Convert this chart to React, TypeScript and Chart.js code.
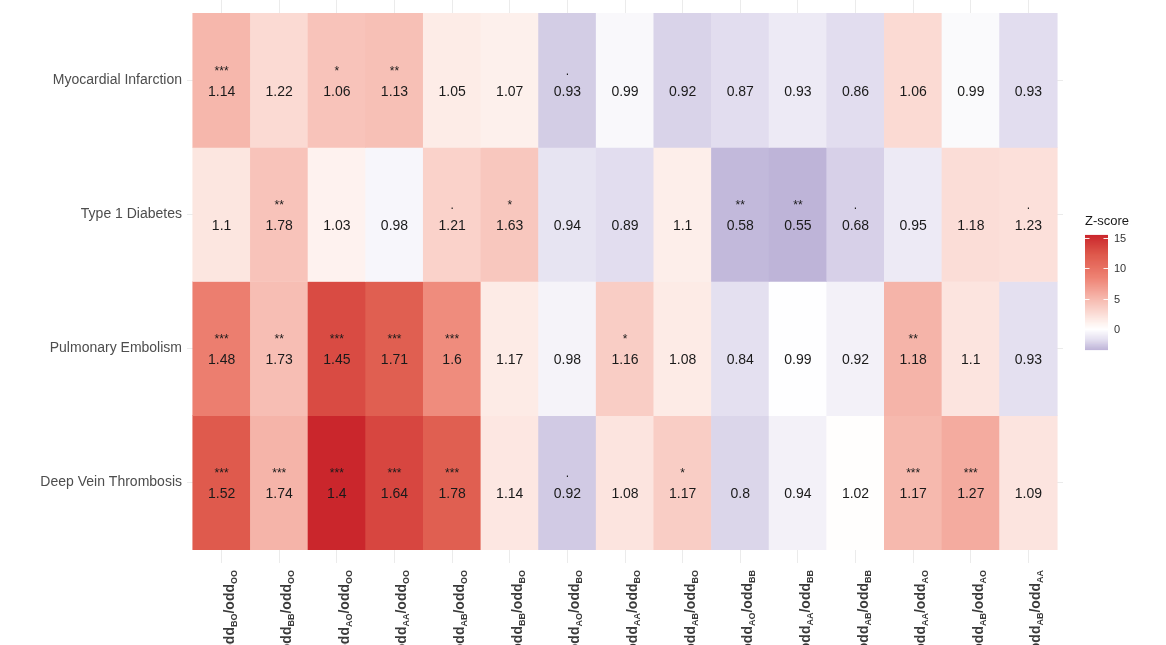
import { useEffect, useRef } from "react";
import { Chart, registerables } from "chart.js";

Chart.register(...registerables);

// ---------- data ----------
const rowLabels = [
  "Myocardial Infarction",
  "Type 1 Diabetes",
  "Pulmonary Embolism",
  "Deep Vein Thrombosis",
];

// column labels: odd_{num}/odd_{den}
const colNumerators = ["BO", "BB", "AO", "AA", "AB", "BB", "AO", "AA", "AB", "AO", "AA", "AB", "AA", "AB", "AB"];
const colDenominators = ["OO", "OO", "OO", "OO", "OO", "BO", "BO", "BO", "BO", "BB", "BB", "BB", "AO", "AO", "AA"];

// odds ratios shown in cells
const orMI = [1.14, 1.22, 1.06, 1.13, 1.05, 1.07, 0.93, 0.99, 0.92, 0.87, 0.93, 0.86, 1.06, 0.99, 0.93];
const orT1D = [1.1, 1.78, 1.03, 0.98, 1.21, 1.63, 0.94, 0.89, 1.1, 0.58, 0.55, 0.68, 0.95, 1.18, 1.23];
const orPE = [1.48, 1.73, 1.45, 1.71, 1.6, 1.17, 0.98, 1.16, 1.08, 0.84, 0.99, 0.92, 1.18, 1.1, 0.93];
const orDVT = [1.52, 1.74, 1.4, 1.64, 1.78, 1.14, 0.92, 1.08, 1.17, 0.8, 0.94, 1.02, 1.17, 1.27, 1.09];

// significance marks
const sigMI = ["***", "", "*", "**", "", "", ".", "", "", "", "", "", "", "", ""];
const sigT1D = ["", "**", "", "", ".", "*", "", "", "", "**", "**", ".", "", "", "."];
const sigPE = ["***", "**", "***", "***", "***", "", "", "*", "", "", "", "", "**", "", ""];
const sigDVT = ["***", "***", "***", "***", "***", "", ".", "", "*", "", "", "", "***", "***", ""];

// Z-scores (fill colour)
const zMI = [5.1, 2.7, 4.3, 4.5, 1.5, 1.2, -2.45, -0.4, -2.2, -1.8, -1.15, -1.8, 2.7, -0.3, -1.8];
const zT1D = [1.9, 4.3, 1.0, -0.5, 3.3, 4.0, -1.5, -1.8, 1.3, -3.2, -3.4, -2.3, -1.15, 2.5, 2.3];
const zPE = [8.9, 4.65, 13.2, 11.8, 7.9, 1.55, -0.65, 3.6, 1.55, -1.7, -0.05, -0.75, 5.3, 2.0, -1.7];
const zDVT = [12.2, 5.3, 15.5, 13.5, 11.8, 1.8, -2.55, 2.0, 3.6, -2.1, -0.75, 0.1, 5.0, 5.9, 2.0];

const legendTicks = [0, 5, 10, 15];

const orRows = [orMI, orT1D, orPE, orDVT];
const sigRows = [sigMI, sigT1D, sigPE, sigDVT];
const zRows = [zMI, zT1D, zPE, zDVT];

const allZ = zRows.flat();
const zMax = Math.max(...allZ);
const zMin = Math.min(...allZ);

// ---------- colour scale ----------
const posStops: [number, number[]][] = [
  [0, [255, 255, 255]],
  [0.1, [253, 235, 230]],
  [0.3, [247, 190, 180]],
  [0.55, [238, 130, 115]],
  [0.8, [222, 88, 75]],
  [1, [202, 38, 44]],
];
const negStops: [number, number[]][] = [
  [0, [255, 255, 255]],
  [0.5, [228, 224, 240]],
  [1, [190, 180, 216]],
];

function interp(stops: [number, number[]][], t: number) {
  t = Math.max(0, Math.min(1, t));
  for (let i = 1; i < stops.length; i++) {
    if (t <= stops[i][0]) {
      const [t0, c0] = stops[i - 1];
      const [t1, c1] = stops[i];
      const f = (t - t0) / (t1 - t0);
      const c = c0.map((v, k) => Math.round(v + (c1[k] - v) * f));
      return `rgb(${c[0]},${c[1]},${c[2]})`;
    }
  }
  const c = stops[stops.length - 1][1];
  return `rgb(${c[0]},${c[1]},${c[2]})`;
}

function zColor(z: number) {
  if (z >= 0) return interp(posStops, z / zMax);
  return interp(negStops, z / zMin);
}

const FONT = "'Liberation Sans', Arial, Helvetica, sans-serif";

// ---------- plugins ----------
const cellTextPlugin = {
  id: "cellText",
  afterDatasetsDraw(chart: any) {
    const ctx = chart.ctx;
    const xs = chart.scales.x;
    const ys = chart.scales.y;
    ctx.save();
    ctx.textAlign = "center";
    ctx.textBaseline = "middle";
    ctx.fillStyle = "#1a1a1a";
    orRows.forEach((row, r) => {
      row.forEach((v, c) => {
        const x = xs.getPixelForValue(c);
        const y = ys.getPixelForValue(r);
        ctx.font = `14px ${FONT}`;
        ctx.fillText(String(v), x, y + 11.5);
        const s = sigRows[r][c];
        if (s) {
          ctx.font = `12px ${FONT}`;
          ctx.fillText(s, x, y - 9);
        }
      });
    });
    ctx.restore();
  },
};

const xLabelPlugin = {
  id: "xLabels",
  afterDraw(chart: any) {
    const ctx = chart.ctx;
    const xs = chart.scales.x;
    const top = chart.chartArea.bottom + 7;
    const big = `bold 14px ${FONT}`;
    const small = `bold 9px ${FONT}`;
    ctx.save();
    ctx.fillStyle = "#3a3a3a";
    ctx.textBaseline = "alphabetic";
    ctx.textAlign = "left";
    colNumerators.forEach((num, i) => {
      const den = colDenominators[i];
      const parts: [string, string, number][] = [
        ["odd", big, 0],
        [num, small, 3],
        ["/", big, 0],
        ["odd", big, 0],
        [den, small, 3],
      ];
      let w = 0;
      parts.forEach(([t, f]) => {
        ctx.font = f;
        w += ctx.measureText(t).width;
      });
      const x = xs.getPixelForValue(i);
      ctx.save();
      ctx.translate(x + 12, top);
      ctx.rotate(-Math.PI / 2);
      let cx = -w;
      parts.forEach(([t, f, dy]) => {
        ctx.font = f;
        ctx.fillText(t, cx, dy);
        cx += ctx.measureText(t).width;
      });
      ctx.restore();
    });
    ctx.restore();
  },
};

const legendPlugin = {
  id: "zLegend",
  afterDraw(chart: any) {
    const ctx = chart.ctx;
    const barX = chart.chartArea.right + 22;
    const barW = 23;
    const zeroY = 329;
    const pxPerUnit = 6.07;
    const yOf = (z: number) => zeroY - z * pxPerUnit;
    const yTop = yOf(zMax);
    const yBot = yOf(zMin);
    ctx.save();
    // title
    ctx.font = `13px ${FONT}`;
    ctx.fillStyle = "#1a1a1a";
    ctx.textAlign = "left";
    ctx.textBaseline = "middle";
    ctx.fillText("Z-score", barX, 221);
    // gradient bar
    const n = Math.ceil(yBot - yTop);
    for (let i = 0; i < n; i++) {
      const z = zMax - ((i + 0.5) / n) * (zMax - zMin);
      ctx.fillStyle = zColor(z);
      ctx.fillRect(barX, yTop + i, barW, 1.2);
    }
    // ticks and labels
    ctx.strokeStyle = "rgba(255,255,255,0.9)";
    ctx.lineWidth = 1;
    ctx.font = `11px ${FONT}`;
    ctx.fillStyle = "#333333";
    legendTicks.forEach((t) => {
      const y = Math.round(yOf(t)) + 0.5;
      ctx.beginPath();
      ctx.moveTo(barX, y);
      ctx.lineTo(barX + 4.5, y);
      ctx.moveTo(barX + barW - 4.5, y);
      ctx.lineTo(barX + barW, y);
      ctx.stroke();
      ctx.fillText(String(t), barX + barW + 6, y);
    });
    ctx.restore();
  },
};

export default function App() {
  const ref = useRef<HTMLCanvasElement | null>(null);

  useEffect(() => {
    if (!ref.current) return;
    const datasets = orRows.map((row, r) => ({
      label: rowLabels[r],
      data: row.map((_, c) => ({ x: c, y: [r - 0.5, r + 0.5] })),
      backgroundColor: zRows[r].map((z) => zColor(z)),
      borderWidth: 0,
      barPercentage: 1,
      categoryPercentage: 1,
      grouped: false,
    }));

    const chart = new Chart(ref.current, {
      type: "bar",
      data: { datasets } as any,
      plugins: [cellTextPlugin, xLabelPlugin, legendPlugin],
      options: {
        animation: false,
        responsive: false,
        layout: { padding: { left: 0, right: 103, top: 0, bottom: 0 } },
        plugins: { legend: { display: false }, tooltip: { enabled: false } },
        scales: {
          x: {
            type: "linear",
            offset: false,
            min: -0.6,
            max: 14.6,
            afterBuildTicks: (s: any) => {
              s.ticks = colNumerators.map((_, i) => ({ value: i }));
            },
            afterFit: (s: any) => {
              s.height = 82;
              s.paddingLeft = 0;
              s.paddingRight = 0;
            },
            ticks: { display: false },
            grid: { color: "#ebebeb", lineWidth: 1, drawTicks: false, offset: false },
            border: { display: false },
          },
          y: {
            type: "linear",
            offset: false,
            reverse: true,
            min: -0.6,
            max: 3.6,
            afterBuildTicks: (s: any) => {
              s.ticks = rowLabels.map((_, i) => ({ value: i }));
            },
            afterFit: (s: any) => {
              s.width = 187;
              s.paddingTop = 0;
              s.paddingBottom = 0;
            },
            ticks: {
              padding: 5,
              color: "#4d4d4d",
              font: { family: FONT, size: 14 },
              callback: (v: any) => rowLabels[v] ?? "",
            },
            grid: { color: "#ebebeb", lineWidth: 1, drawTicks: false, offset: false },
            border: { display: false },
          },
        },
      } as any,
    });
    return () => chart.destroy();
  }, []);

  return (
    <div style={{ position: "fixed", left: 0, top: 0, width: 1166, height: 645, background: "#fff" }}>
      <canvas ref={ref} width={1166} height={645} style={{ display: "block" }} />
    </div>
  );
}
